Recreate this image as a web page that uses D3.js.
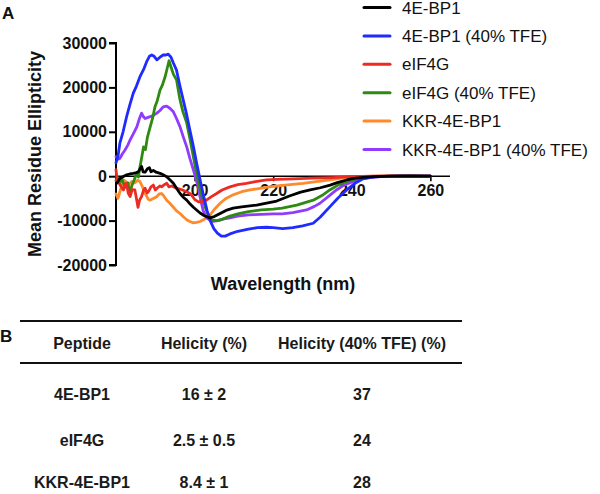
<!DOCTYPE html>
<html><head><meta charset="utf-8">
<script src="https://cdn.jsdelivr.net/npm/d3@7"></script>
<style>body{margin:0;background:#fff}svg{display:block}text{font-family:"Liberation Sans",Arial,sans-serif}</style>
</head><body><svg id="c" width="600" height="494"></svg>
<script>
// ---- data ----
const seriesNames = ["4E-BP1","4E-BP1 (40% TFE)","eIF4G","eIF4G (40% TFE)","KKR-4E-BP1","KKR-4E-BP1 (40% TFE)"];
const seriesColors = ["#000000","#1f2bff","#ee2b22","#2f8a12","#ff8a2c","#8f3cff"];
const xTicks = [200,220,240,260];
const yTicks = [30000,20000,10000,0,-10000,-20000];

const bp1 = [[180.2,-1600],[181,-500],[182,0],[182.7,300],[183.5,500],[184.4,650],[185.2,800],[185.7,1000],[186.2,1800],[186.5,2200],[186.9,1000],[187.4,900],[188,1700],[188.5,1900],[188.9,1000],[189.5,1300],[190.2,900],[191.2,650],[192,300],[192.9,-100],[193.7,-800],[194.6,-1600],[195.4,-2700],[196.3,-3900],[197.2,-4800],[198,-5400],[198.8,-6200],[199.7,-7000],[200.5,-7600],[201.4,-8300],[202.5,-8900],[203.9,-9400],[205,-9100],[206.5,-8400],[208,-7700],[209.8,-7200],[212,-6900],[215.8,-6500],[218,-6100],[220.9,-5600],[224.3,-4400],[227,-3600],[229.4,-3100],[232,-2600],[234.5,-2000],[236.5,-1400],[238.7,-850],[240.5,-500],[242.9,-250],[246,-80],[250,0],[255,50],[260,0]];
const bp1Tfe = [[180,3000],[180.5,4500],[181,7500],[181.8,10000],[182.7,13400],[183.5,16000],[184.4,18700],[185.2,20300],[186.1,22400],[187,24000],[187.8,25800],[188.5,27000],[189.1,27300],[189.7,27000],[190.4,26200],[191.2,26800],[192,27300],[192.7,27300],[193.3,27500],[194,26800],[194.6,25500],[195.4,23900],[196.2,20600],[197.1,17200],[198,13800],[198.8,10400],[199.7,6700],[200.5,3000],[201.4,-800],[202.3,-4500],[203.2,-7800],[204.1,-10300],[204.9,-11800],[205.8,-12800],[206.8,-13500],[207.8,-13500],[209,-13000],[211,-12400],[213.7,-11900],[216,-11600],[218.3,-11500],[220,-11600],[222.4,-11800],[225,-11600],[227.5,-11200],[230.2,-10600],[232,-9200],[234.4,-6900],[236.5,-4900],[238.7,-3100],[240.8,-1600],[242.9,-600],[245,-200],[248,-50],[252,0],[260,0]];
const eif4g = [[180,1500],[180.3,-1000],[180.8,-1600],[181.4,-2500],[181.9,-3100],[182.3,-1800],[182.7,-1600],[183.1,-3800],[183.6,-4600],[184.1,-3000],[184.8,-3100],[185.2,-5000],[185.6,-7000],[186,-5400],[186.5,-4600],[187,-3200],[187.4,-2700],[187.9,-3800],[188.3,-3400],[188.9,-2400],[189.5,-2000],[190,-3100],[190.6,-2600],[191.2,-2200],[191.6,-2400],[192.3,-1900],[192.9,-1600],[193.5,-2400],[194.2,-2200],[195.4,-2700],[196.6,-3000],[198,-3500],[199,-4000],[200,-5200],[201,-5800],[202,-5700],[203,-5400],[204.3,-4600],[205.6,-3900],[207,-3100],[209,-2400],[211,-1900],[213.2,-1600],[215.5,-1200],[218.3,-850],[221,-700],[225,-600],[230,-450],[235,-300],[240,-100],[245,0],[250,50],[260,0]];
const eif4gTfe = [[180,-1000],[180.5,-400],[181,-1400],[181.5,-600],[182,-1800],[182.5,-2500],[183,-1500],[183.6,-3800],[184,-2200],[184.6,-900],[185.2,500],[185.7,-200],[186.1,2100],[186.6,4500],[187,6600],[187.5,6000],[188,8800],[188.7,11100],[189.3,13000],[189.9,15600],[190.5,17000],[191.2,19400],[191.8,20500],[192.5,22400],[193,24200],[193.5,26000],[194,24600],[194.6,23000],[195.4,21700],[196.2,17600],[197,14600],[198,12000],[198.8,8500],[199.6,4800],[200.5,700],[201.3,-2500],[202.2,-5600],[203.2,-8200],[204.3,-9900],[205.6,-10000],[207,-9700],[209,-9000],[211,-8500],[213.7,-8000],[217,-7600],[220,-7400],[222.3,-7200],[226,-6500],[230.2,-5400],[232.5,-4300],[234.4,-3100],[236.5,-2000],[238.7,-1200],[241,-600],[243,-200],[246,-50],[250,0],[260,0]];
const kkr = [[180,-4000],[180.5,-5000],[181,-3500],[181.5,-2000],[182,-900],[182.6,-1300],[183.3,-1800],[184,-1200],[184.8,-1500],[185.5,-900],[186.1,-1200],[186.8,-2500],[187.5,-4000],[188.2,-5200],[188.7,-5400],[189.5,-5000],[190.4,-4600],[191,-4000],[191.6,-3900],[192.2,-4500],[192.9,-5400],[193.7,-6100],[194.6,-7000],[195.4,-7800],[196.3,-8400],[197.2,-9200],[198,-9800],[198.8,-10200],[199.7,-10500],[200.5,-10400],[201.4,-10200],[202.5,-9700],[203.9,-8800],[205,-7500],[206.5,-6100],[208,-5000],[209.8,-4200],[212,-3500],[214.1,-3100],[217,-2700],[220,-2300],[223,-2000],[227.6,-1600],[231,-1200],[234.5,-850],[237,-500],[240,-200],[244,-50],[250,0],[260,0]];
const kkrTfe = [[180,4400],[180.5,3800],[181,4000],[181.6,5000],[182.3,5900],[183,7000],[183.6,8200],[184.5,9700],[185.3,11100],[185.9,12800],[186.5,14200],[187,13400],[187.4,13000],[188,13200],[188.7,13400],[189.5,13700],[190.4,14200],[191.2,14800],[192,15600],[192.9,15800],[193.7,15300],[194.6,14500],[195.4,13000],[196.3,11100],[197.1,8900],[198,6600],[198.8,4000],[199.7,1400],[200.3,-500],[200.9,-2400],[201.6,-5500],[202.2,-7800],[203,-9300],[204,-10000],[204.7,-10200],[206,-10000],[207.5,-9600],[209,-9400],[211,-9000],[213.7,-8700],[217,-8600],[220,-8500],[222.3,-8500],[225,-8200],[228.5,-7600],[230.5,-6800],[231.9,-6100],[234,-4600],[236.1,-3100],[238,-2000],[240.4,-1200],[242.5,-600],[244.6,-300],[248,-50],[252,0],[260,0]];
const seriesData = [bp1,bp1Tfe,eif4g,eif4gTfe,kkr,kkrTfe];
const drawOrder = [4,5,3,2,1,0];

const tableHeader = ["Peptide","Helicity (%)","Helicity (40% TFE) (%)"];
const tablePeptides = ["4E-BP1","eIF4G","KKR-4E-BP1"];
const tableHelicity = ["16 ± 2","2.5 ± 0.5","8.4 ± 1"];
const tableHelicityTfe = ["37","24","28"];

// ---- chart ----
const svg = d3.select("#c");
const x = d3.scaleLinear().domain([180,265]).range([116,450]);
const y = d3.scaleLinear().domain([-20000,30000]).range([265,43]);

// y axis
const ya = svg.append("g").attr("transform","translate(116,0)")
  .call(d3.axisLeft(y).tickValues(yTicks).tickFormat(d => String(d)).tickSize(7).tickPadding(2));
ya.select(".domain").attr("stroke","#000").attr("stroke-width",2).attr("d","M-7,"+y(30000)+"H0V"+y(-20000)+"H-7");
ya.selectAll(".tick line").attr("stroke","#000").attr("stroke-width",2);
ya.selectAll(".tick text").attr("fill","#111").style("font-size","16px").style("font-weight","bold");

// x axis at zero
const xa = svg.append("g").attr("transform","translate(0,"+y(0)+")")
  .call(d3.axisBottom(x).tickValues(xTicks).tickSize(5).tickPadding(3));
xa.select(".domain").attr("stroke","#000").attr("stroke-width",1.6).attr("d","M"+x(180)+",0H"+x(265));
xa.selectAll(".tick line").attr("stroke","#000").attr("stroke-width",1.6);
xa.selectAll(".tick text").attr("fill","#111").style("font-size","16px").style("font-weight","bold");

// lines
const line = d3.line().x(d=>x(d[0])).y(d=>y(d[1])).curve(d3.curveLinear);
drawOrder.forEach(i=>{
  svg.append("path").datum(seriesData[i]).attr("d",line)
    .attr("fill","none").attr("stroke",seriesColors[i]).attr("stroke-width",2.8)
    .attr("stroke-linejoin","round").attr("stroke-linecap","round");
});

// titles
svg.append("text").attr("transform","translate(41,154) rotate(-90)").attr("text-anchor","middle")
  .style("font-size","18px").style("font-weight","bold").attr("fill","#111").text("Mean Residue Ellipticity");
svg.append("text").attr("x",283).attr("y",290).attr("text-anchor","middle")
  .style("font-size","18px").style("font-weight","bold").attr("fill","#111").text("Wavelength (nm)");
svg.append("text").attr("x",2).attr("y",19).style("font-size","17px").style("font-weight","bold").attr("fill","#111").text("A");
svg.append("text").attr("x",0).attr("y",342).style("font-size","17px").style("font-weight","bold").attr("fill","#111").text("B");

// legend
const lg = svg.append("g");
seriesNames.forEach((n,i)=>{
  const cy = 7.5 + i*28.4;
  lg.append("line").attr("x1",364).attr("x2",390).attr("y1",cy).attr("y2",cy)
    .attr("stroke",seriesColors[i]).attr("stroke-width",3).attr("stroke-linecap","round");
  lg.append("text").attr("x",402).attr("y",cy+6).style("font-size","17px").attr("fill","#111").text(n);
});

// table
const colX = [82,204,362];
svg.append("line").attr("x1",20).attr("x2",462).attr("y1",321).attr("y2",321).attr("stroke","#111").attr("stroke-width",2.2);
svg.append("line").attr("x1",20).attr("x2",462).attr("y1",363).attr("y2",363).attr("stroke","#111").attr("stroke-width",2.2);
function cell(txt,cx,by){
  svg.append("text").attr("transform","translate("+cx+","+by+") scale(1,1.08)").attr("text-anchor","middle")
    .style("font-size","16px").style("font-weight","bold").attr("fill","#1a1a1a").text(txt);
}
tableHeader.forEach((h,i)=>cell(h,colX[i],349));
const rowY = [400,446,488];
tablePeptides.forEach((p,r)=>{
  cell(p,colX[0],rowY[r]);
  cell(tableHelicity[r],colX[1],rowY[r]);
  cell(tableHelicityTfe[r],colX[2],rowY[r]);
});
</script></body></html>
